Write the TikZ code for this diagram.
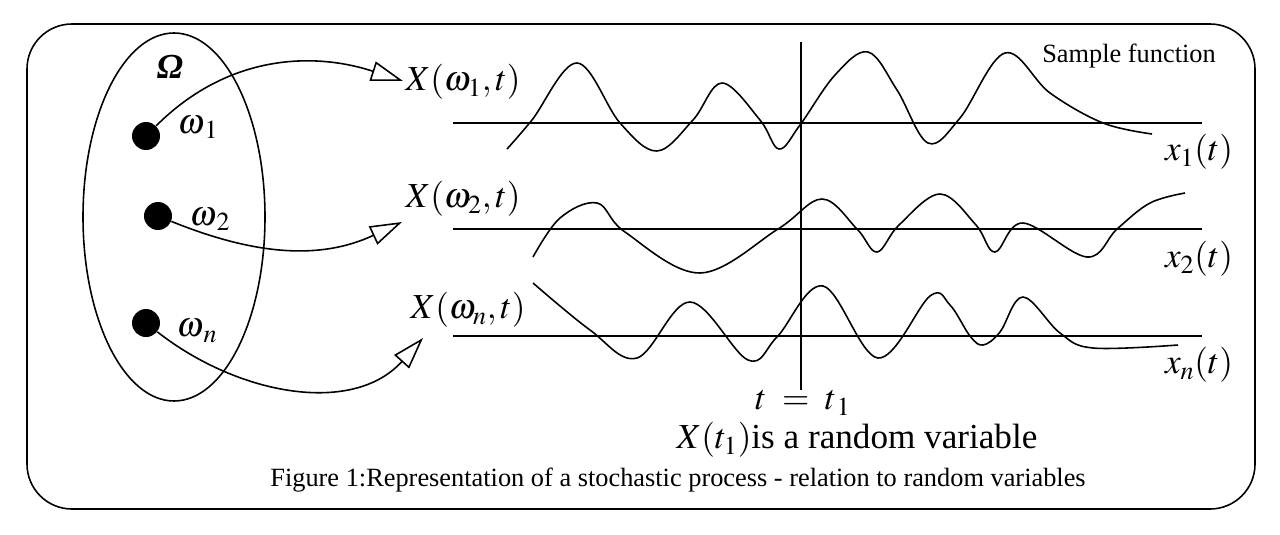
\documentclass[tikz,border=0pt]{standalone}
\usepackage{mathptmx}
\usepackage[no-math]{fontspec}
\setmainfont{Liberation Serif}
\usetikzlibrary{arrows.meta}
\tikzset{
  outerbox/.style = {draw, line width=0.9pt, rounded corners=0.9cm},
  sspace/.style   = {draw, line width=0.9pt},
  dot/.style      = {circle, fill=black, inner sep=0pt, minimum size=0.56cm},
  lbl/.style      = {font=\fontsize{20}{24}\selectfont, inner sep=1pt},
  captext/.style  = {font=\fontsize{15}{18}\selectfont, inner sep=1pt},
  axis/.style     = {line width=0.9pt},
  wave/.style     = {line width=0.9pt},
  mapar/.style    = {-{Triangle[open, length=6.4mm, width=4mm]}, line width=0.9pt}
}

\begin{document}
\begin{tikzpicture}[x=0.02cm, y=-0.02cm]
    \useasboundingbox (0,0) rectangle (1280,534);
    \draw[outerbox] (27,24) rectangle (1255,509);

    % sample space
    \draw[sspace] (174,217) ellipse [x radius=91, y radius=184];
    \node[lbl] (om) at (170,67) {\bfseries\itshape Ω};
    \node[dot] (d1) at (146,136) {};
    \node[dot] (d2) at (158,216) {};
    \node[dot] (dn) at (146,323) {};
    \node[lbl] (w1) at (198,127) {$\omega_{\,1}$};
    \node[lbl] (w2) at (210,219) {$\omega_{\,2}$};
    \node[lbl] (wn) at (197,331) {$\omega_{\,n}$};

    % process labels
    \node[lbl] (X1) at (463,82) {$X(\omega_1,t)$};
    \node[lbl] (X2) at (463,199) {$X(\omega_2,t)$};
    \node[lbl] (Xn) at (468,310) {$X(\omega_n,t)$};
    \coordinate (tip1) at (403,81);
    \coordinate (tip2) at (402,222);
    \coordinate (tipn) at (423,338);
    \draw[mapar] (d1) to[out=45, in=162] (tip1);
    \draw[mapar] (d2) to[out=-22, in=205] (tip2);
    \draw[mapar] (dn) to[out=-38, in=228] (tipn);

    % time axes
    \foreach \y in {123,229,336}
      \draw[axis] (453,\y) -- (1202,\y);
    \coordinate (ttop) at (801,42);
    \coordinate (tbot) at (801,390);
    \draw[axis] (ttop) -- (tbot);

    % sample functions
    \draw[wave] plot[smooth, tension=0.6] coordinates {
      (507,149) (532,120) (577,63) (620,123) (657,151) (693,120) (722,83)
      (760,120) (779,149) (800,125) (835,75) (868,52) (897,90) (928,143)
      (960,118) (1005,53) (1050,93) (1103,123) (1152,134)};
    \draw[wave] plot[smooth, tension=0.6] coordinates {
      (533,257) (560,218) (597,203) (625,232) (700,273) (778,229)
      (822,199) (857,229) (877,252) (899,225) (940,194) (976,225)
      (995,252) (1023,223) (1087,257) (1117,229) (1150,203)
      (1185,193)};
    \draw[wave] plot[smooth, tension=0.6] coordinates {
      (533,283) (590,330) (637,358) (690,302) (748,360)
      (777,337) (823,286) (878,358) (930,296) (950,305)
      (970,336) (983,345) (1000,332) (1023,297) (1060,333) (1093,348)
      (1178,345)};

    \node[lbl] (x1) at (1199,152) {$x_1(t)$};
    \node[lbl] (x2) at (1199,259) {$x_2(t)$};
    \node[lbl] (xn) at (1199,365) {$x_n(t)$};
    \node[captext] (sf) at (1129,56) {Sample function};

    % bottom texts
    \node[lbl] (tt) at (803,403) {$t\;=\;t_{\,1}$};
    \node[lbl] (rv) at (857,440) {$X(t_1)$is a random variable};
    \node[captext] (fig) at (678,480) {Figure 1:Representation of a stochastic process - relation to random variables};
\end{tikzpicture}
\end{document}
